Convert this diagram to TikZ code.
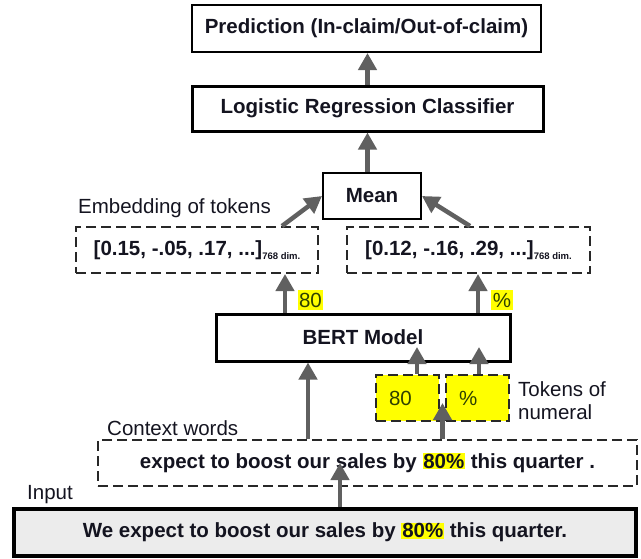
\documentclass[tikz,border=0pt]{standalone}
\usepackage{fontspec}
\setmainfont{Liberation Sans}
\usetikzlibrary{arrows.meta,calc}
\definecolor{arrgray}{HTML}{606060}
\definecolor{hlyellow}{HTML}{FFFF00}
\definecolor{txt}{HTML}{141420}
\definecolor{olivetxt}{HTML}{2E4000}
\definecolor{dashcol}{HTML}{282828}
\definecolor{inpgray}{HTML}{ECECEC}
\newcommand\hlt[1]{{\setlength{\fboxsep}{0.8pt}\colorbox{hlyellow}{#1}}}
\newcommand\dimsub{\raisebox{-4pt}{\fontsize{9.5}{10}\selectfont\bfseries 768 dim.}}
\begin{document}
\begin{tikzpicture}[x=1pt,y=-1pt,
  font=\fontsize{20.5}{23}\selectfont,
  box/.style={draw=black, line width=#1, inner sep=0pt, text=txt, font=\fontsize{20.5}{23}\selectfont\bfseries},
  box/.default=2pt,
  dbox/.style={draw=dashcol, line width=2pt, dash pattern=on 10pt off 5pt, inner sep=0pt, text=txt, font=\fontsize{20.5}{23}\selectfont\bfseries},
  tokbox/.style={dbox, fill=hlyellow, text=olivetxt, font=\fontsize{20.5}{23}\selectfont, text width=37pt, inner xsep=13pt, minimum height=46pt, align=left},
  arr/.style={draw=arrgray, line width=4.5pt, -{Triangle[length=17pt,width=18pt]}},
  lbl/.style={anchor=west, inner sep=0pt, text=txt},
  hl/.style={fill=hlyellow, inner sep=1.5pt, text=olivetxt, minimum height=20pt}
]
\useasboundingbox (0,0) rectangle (641,558);

\node[box=2pt, minimum width=349pt, minimum height=47pt] (pred) at (366.5,28.5) {Prediction (In-claim/Out-of-claim)};
\node[box=3pt, minimum width=351pt, minimum height=45pt] (logi) at (367.5,108.5) {Logistic Regression Classifier};
\node[box=2pt, minimum width=98pt, minimum height=46pt] (mean) at (372,196) {Mean};
\node[dbox, minimum width=242pt, minimum height=46pt] (embL) at (197,250) {[0.15, -.05, .17, ...]\dimsub};
\node[dbox, minimum width=243pt, minimum height=46pt] (embR) at (468.5,250) {[0.12, -.16, .29, ...]\dimsub};
\node[box=3pt, minimum width=294pt, minimum height=47pt] (bert) at (363,337.5) {BERT Model};
\node[tokbox] (n80) at (407.5,398) {80};
\node[tokbox] (npct) at (477.5,398) {\%};
\node[dbox, minimum width=539pt, minimum height=46pt] (ctx) at (367.5,463) {expect to boost our sales by \hlt{80\%} this quarter .};
\node[box=4pt, fill=inpgray, minimum width=622pt, minimum height=47pt] (inp) at (325,532.5) {We expect to boost our sales by \hlt{80\%} this quarter.};

\node[lbl] (embtxt) at (78,208) {Embedding of tokens};
\node[lbl] (ctxtxt) at (107,428) {Context words};
\node[lbl] (inptxt) at (27,495) {Input};
\node[lbl, align=left] (toktxt) at (518,401) {Tokens of\\numeral};
\node[hl] (l80) at (310.5,300) {80};
\node[hl] (lpct) at (502,300) {\%};

\coordinate (t80) at (417,347);
\coordinate (tpct) at (479,347);
\coordinate (tmid) at ($(n80.east)!0.5!(npct.west)$);

\draw[arr] (logi.north) -- (logi.north |- pred.south);
\draw[arr] (logi.south |- mean.north) -- (logi.south);
\draw[arr] (282,0 |- embL.north) -- (mean.west);
\draw[arr] (470,0 |- embR.north) -- (mean.east);
\draw[arr] (285,0 |- bert.north) -- (285,0 |- embL.south);
\draw[arr] (478,0 |- bert.north) -- (478,0 |- embR.south);
\draw[arr] (308,0 |- ctx.north) -- (308,0 |- bert.south);
\draw[arr] (t80 |- n80.north) -- (t80);
\draw[arr] (tpct |- npct.north) -- (tpct);
\draw[arr] (tmid |- ctx.north) -- ([yshift=-5pt]tmid);
\draw[arr] (340,0 |- inp.north) -- (340,0 |- ctx.center);
\end{tikzpicture}
\end{document}
